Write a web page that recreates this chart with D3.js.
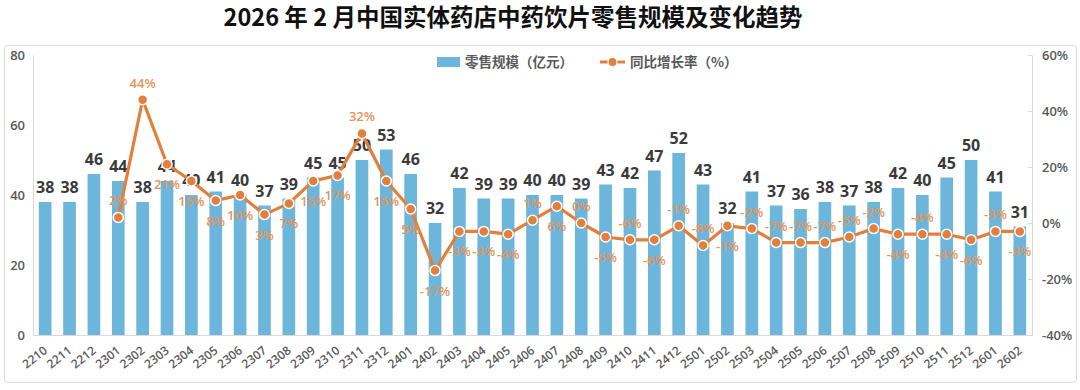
<!DOCTYPE html>
<html><head><meta charset="utf-8">
<script src="https://cdn.jsdelivr.net/npm/d3@7/dist/d3.min.js"></script>
<style>
html,body{margin:0;padding:0;background:#fff;}
svg{display:block;font-family:"Open Sans","Noto Sans CJK SC",sans-serif;}
</style></head>
<body>
<svg id="chart" width="1080" height="390"></svg>
<script>
const categories = ["2210","2211","2212","2301","2302","2303","2304","2305","2306","2307","2308","2309","2310","2311","2312","2401","2402","2403","2404","2405","2406","2407","2408","2409","2410","2411","2412","2501","2502","2503","2504","2505","2506","2507","2508","2509","2510","2511","2512","2601","2602"];
const retailScale = [38,38,46,44,38,44,40,41,40,37,39,45,45,50,53,46,32,42,39,39,40,40,39,43,42,47,52,43,32,41,37,36,38,37,38,42,40,45,50,41,31];
const yoyGrowth = [null,null,null,2,44,21,15,8,10,3,7,15,17,32,15,5,-17,-3,-3,-4,1,6,0,-5,-6,-6,-1,-8,-1,-2,-7,-7,-7,-5,-2,-4,-4,-4,-6,-3,-3];
const growthLabelSide = [null,null,null,"a","a","b","b","b","b","b","b","b","b","a","b","b","b","b","b","b","a","b","a","b","a","b","a","a","b","a","a","a","a","a","a","b","a","b","b","a","b"];
const leftTicks = [0,20,40,60,80];
const rightTicks = [-40,-20,0,20,40,60];
const titleText = "2026 年 2 月中国实体药店中药饮片零售规模及变化趋势";
const legendBar = "零售规模（亿元）";
const legendLine = "同比增长率（%）";

(function(){
const svg = d3.select("#chart");
const barColor = "#6bb6da", lineColor = "#e27f3b", pctColor = "#e3945a", axisColor = "#595959";

svg.append("rect").attr("x",4.5).attr("y",45.5).attr("width",1072).attr("height",337)
  .attr("rx",3).attr("fill","none").attr("stroke","#dcdcdc");

svg.append("text").attr("x",513).attr("y",26).attr("text-anchor","middle")
  .attr("font-family","'Noto Sans CJK SC',sans-serif").attr("font-weight",700)
  .attr("font-size",23.5).attr("fill","#111").text(titleText);

const pl = 33, pr = 1032, pt = 55, pb = 335;
const x = d3.scaleBand().domain(categories).range([pl,pr]).paddingInner(0.48).paddingOuter(0.24);
const y = d3.scaleLinear().domain([0,80]).range([pb,pt]);
const y2 = d3.scaleLinear().domain([-40,60]).range([pb,pt]);

const gl = svg.append("g").attr("transform",`translate(${pl},0)`)
  .call(d3.axisLeft(y).tickValues(leftTicks).tickSize(0).tickPadding(8));
gl.select(".domain").attr("stroke","#d9d9d9");
gl.selectAll("text").attr("fill",axisColor).attr("font-size",13).attr("font-weight",600).attr("font-family","'Open Sans',sans-serif");

const gr = svg.append("g").attr("transform",`translate(${pr},0)`)
  .call(d3.axisRight(y2).tickValues(rightTicks).tickFormat(d=>d+"%").tickSizeInner(-4).tickSizeOuter(0).tickPadding(10));
gr.select(".domain").attr("stroke","#d9d9d9");
gr.selectAll("line").attr("stroke","#d9d9d9");
gr.selectAll("text").attr("fill",axisColor).attr("font-size",13).attr("font-weight",600).attr("font-family","'Open Sans',sans-serif");

const gb = svg.append("g").attr("transform",`translate(0,${pb})`)
  .call(d3.axisBottom(x).tickSize(0).tickPadding(0));
gb.select(".domain").attr("stroke","#d9d9d9");
gb.selectAll("text").attr("fill",axisColor).attr("font-size",12).attr("font-weight",600)
  .attr("font-family","'Open Sans',sans-serif")
  .attr("text-anchor","end").attr("dy",0).attr("y",0)
  .attr("transform","translate(3,17) rotate(-38)");

svg.append("g").selectAll("rect").data(retailScale).join("rect")
  .attr("x",(d,i)=>x(categories[i])).attr("width",x.bandwidth())
  .attr("y",d=>y(d)).attr("height",d=>pb-y(d)).attr("fill",barColor);

svg.append("g").selectAll("text").data(retailScale).join("text")
  .attr("x",(d,i)=>x(categories[i])+x.bandwidth()/2).attr("y",d=>y(d)-9)
  .attr("text-anchor","middle").attr("font-size",16).attr("font-weight",700)
  .attr("fill","#3a3a3a").text(d=>d);

const pts = yoyGrowth.map((v,i)=>({v,i,c:categories[i]})).filter(p=>p.v!==null);
const line = d3.line().x(p=>x(p.c)+x.bandwidth()/2).y(p=>y2(p.v));
svg.append("path").datum(pts).attr("d",line).attr("fill","none")
  .attr("stroke",lineColor).attr("stroke-width",3.2).attr("stroke-linejoin","round");
svg.append("g").selectAll("circle").data(pts).join("circle")
  .attr("cx",p=>x(p.c)+x.bandwidth()/2).attr("cy",p=>y2(p.v)).attr("r",5)
  .attr("fill",lineColor).attr("stroke","#fff").attr("stroke-width",1.5);
svg.append("g").selectAll("text").data(pts).join("text")
  .attr("x",p=>x(p.c)+x.bandwidth()/2)
  .attr("y",p=>y2(p.v)+(growthLabelSide[p.i]==="a"?-12:25))
  .attr("text-anchor","middle").attr("font-size",13).attr("font-weight",600)
  .attr("fill",pctColor).text(p=>p.v+"%");

const lg = svg.append("g");
lg.append("rect").attr("x",437).attr("y",57).attr("width",23).attr("height",10).attr("fill",barColor);
lg.append("text").attr("x",465).attr("y",67).attr("font-size",13.5).attr("font-weight",600)
  .attr("font-family","'Noto Sans CJK SC',sans-serif").attr("fill",axisColor).text(legendBar);
lg.append("line").attr("x1",600).attr("x2",625).attr("y1",62).attr("y2",62).attr("stroke",lineColor).attr("stroke-width",3);
lg.append("circle").attr("cx",612.5).attr("cy",62).attr("r",4.5).attr("fill",lineColor).attr("stroke","#fff").attr("stroke-width",1.2);
lg.append("text").attr("x",630).attr("y",67).attr("font-size",13.5).attr("font-weight",600)
  .attr("font-family","'Noto Sans CJK SC',sans-serif").attr("fill",axisColor).text(legendLine);
})();
</script>
</body></html>
